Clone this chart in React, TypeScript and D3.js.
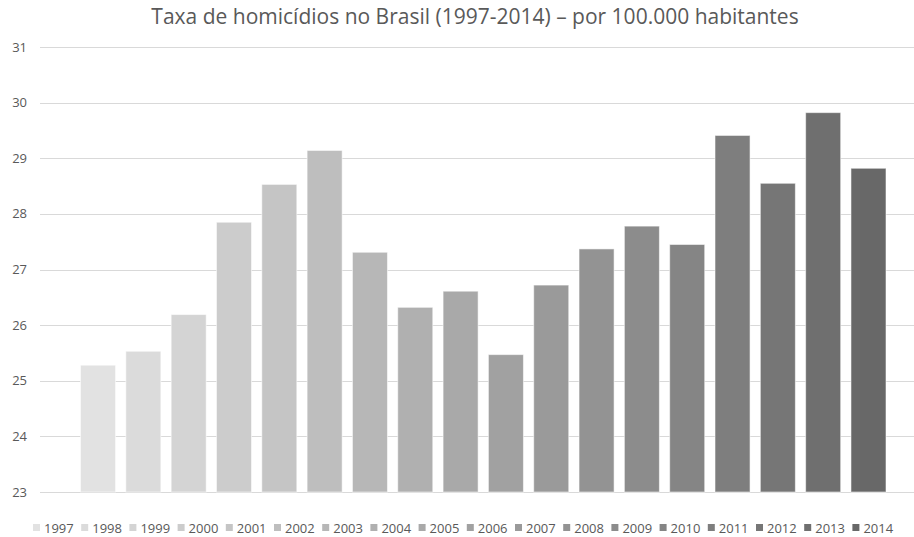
import React, { useEffect, useRef } from "react";
import * as d3 from "d3";

const years = [
  "1997", "1998", "1999", "2000", "2001", "2002", "2003", "2004", "2005",
  "2006", "2007", "2008", "2009", "2010", "2011", "2012", "2013", "2014",
];
const rates = [
  25.28, 25.53, 26.19, 27.85, 28.53, 29.14, 27.31, 26.32, 26.61,
  25.47, 26.72, 27.37, 27.78, 27.45, 29.41, 28.55, 29.82, 28.82,
];
const yTicks = [23, 24, 25, 26, 27, 28, 29, 30, 31];
const title = "Taxa de homicídios no Brasil (1997-2014) – por 100.000 habitantes";

const FONT = "'Open Sans', Lato, sans-serif";

const App: React.FC = () => {
  const svgRef = useRef<SVGSVGElement>(null);

  useEffect(() => {
    if (!svgRef.current) return;
    const svg = d3.select(svgRef.current);
    svg.selectAll("*").remove();

    const width = 914;
    const height = 537;
    const margin = { top: 47, right: 0, bottom: 45, left: 40 };

    // bars don't fill the plot evenly (Excel series gap), so give them their own range
    const x = d3
      .scaleBand()
      .domain(years)
      .range([80.5, 886])
      .paddingInner(0.227)
      .paddingOuter(0);

    const y = d3
      .scaleLinear()
      .domain([23, 31])
      .range([height - margin.bottom, margin.top]);

    const color = d3
      .scaleLinear<string>()
      .domain([0, years.length - 1])
      .range(["#e2e2e2", "#686868"])
      .interpolate(d3.interpolateRgb);

    // title
    svg
      .append("text")
      .attr("x", 475)
      .attr("y", 24)
      .attr("text-anchor", "middle")
      .attr("font-family", FONT)
      .attr("font-size", 21)
      .attr("fill", "#595959")
      .text(title);

    // grid lines
    svg
      .append("g")
      .selectAll("line")
      .data(yTicks)
      .enter()
      .append("line")
      .attr("x1", margin.left)
      .attr("x2", width - margin.right)
      .attr("y1", (d) => Math.round(y(d)) + 0.5)
      .attr("y2", (d) => Math.round(y(d)) + 0.5)
      .attr("stroke", "#d9d9d9")
      .attr("stroke-width", 1);

    // y tick labels
    svg
      .append("g")
      .selectAll("text")
      .data(yTicks)
      .enter()
      .append("text")
      .attr("x", 27)
      .attr("y", (d) => y(d))
      .attr("dy", "0.35em")
      .attr("text-anchor", "end")
      .attr("font-family", FONT)
      .attr("font-size", 13)
      .attr("fill", "#595959")
      .text((d) => d);

    // bars
    svg
      .append("g")
      .selectAll("rect")
      .data(rates)
      .enter()
      .append("rect")
      .attr("x", (d, i) => x(years[i])!)
      .attr("y", (d) => y(d))
      .attr("width", x.bandwidth())
      .attr("height", (d) => y(23) - y(d))
      .attr("fill", (d, i) => color(i))
      .attr("stroke", "rgba(255,255,255,0.55)")
      .attr("stroke-width", 1);

    // legend
    const legend = d3
      .scaleBand()
      .domain(years)
      .range([33, 33 + 48.2 * years.length]);

    const items = svg
      .append("g")
      .selectAll("g")
      .data(years)
      .enter()
      .append("g")
      .attr("transform", (d) => `translate(${legend(d)}, ${height - 4})`);

    items
      .append("rect")
      .attr("x", 0)
      .attr("y", -9)
      .attr("width", 7)
      .attr("height", 7)
      .attr("fill", (d, i) => color(i));

    items
      .append("text")
      .attr("x", 11)
      .attr("y", 0)
      .attr("font-family", FONT)
      .attr("font-size", 13)
      .attr("fill", "#595959")
      .text((d) => d);
  }, []);

  return (
    <svg
      ref={svgRef}
      width={914}
      height={537}
      style={{ position: "absolute", left: 0, top: 0, background: "#fff" }}
    ></svg>
  );
};

export default App;
